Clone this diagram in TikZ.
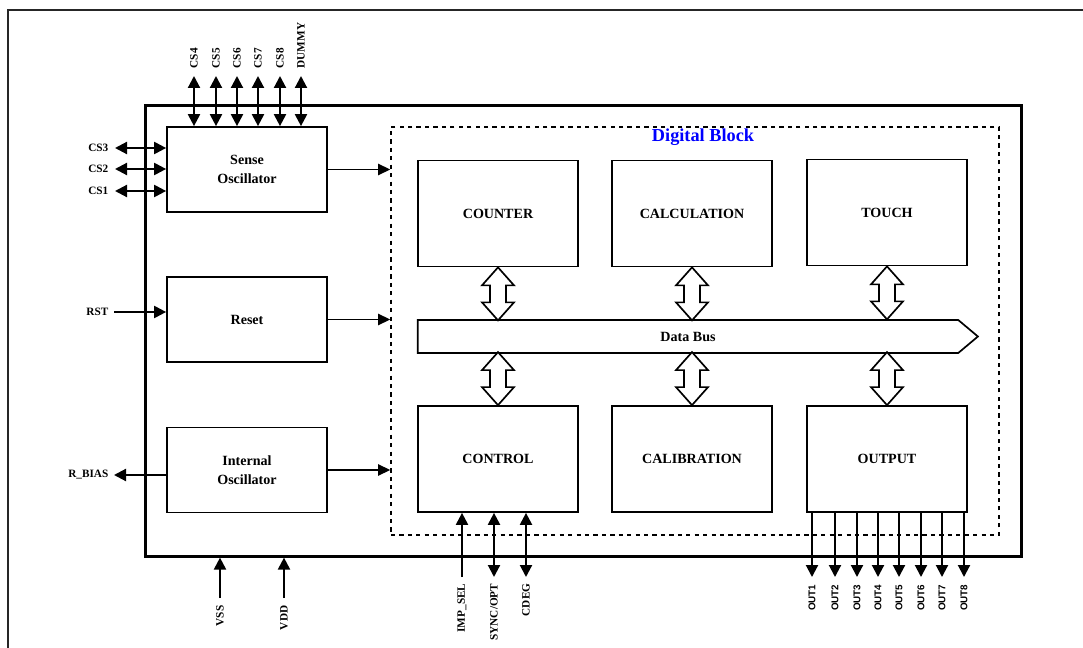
\documentclass[tikz,border=0pt]{standalone}
\usepackage{fontspec}
\setmainfont{Liberation Serif}
\newfontfamily\outfont{Liberation Sans}
\usetikzlibrary{arrows.meta,shapes.symbols}

\begin{document}
\begin{tikzpicture}
[
x=0.025cm, y=-0.025cm,
every node/.style={inner sep=1pt, font=\bfseries\fontsize{8}{9}\selectfont},
block/.style={draw, line width=1.2pt, minimum width=4cm, minimum height=2.65cm, align=center, font=\bfseries\fontsize{10}{13.5}\selectfont},
osc/.style={block, minimum height=2.125cm},
pin/.style={line width=1.5pt, -{Triangle[length=3mm,width=3mm]}},
bipin/.style={line width=1.5pt, {Triangle[length=3mm,width=3mm]}-{Triangle[length=3mm,width=3mm]}},
feed/.style={line width=1.1pt, -{Triangle[length=3mm,width=2.8mm]}},
hollow/.style={draw, line width=1.2pt, fill=white, line join=miter},
vlabel/.style={rotate=90}
]
\useasboundingbox (0,0) rectangle (1083,648);

% page frame
\draw[line width=1.6pt, black!85] (1083,10) -- (8,10) -- (8,648);

% chip and digital block
\node[draw, line width=2.2pt, inner sep=0, minimum width=21.875cm, minimum height=11.25cm] (chip) at (583.5,331) {};
\node[draw, dashed, line width=1pt, inner sep=0, minimum width=15.2cm, minimum height=10.2cm] (dig) at (695,331) {};
\node[text=blue, font=\bfseries\fontsize{13}{15}\selectfont] (diglab) at (703,137) {Digital Block};

% analog blocks
\node[osc] (sense) at (247,169.5) {Sense\\Oscillator};
\node[osc] (reset) at (247,319.5) {Reset};
\node[osc] (intosc) at (247,470) {Internal\\Oscillator};

\draw[feed] (sense.east) -- (sense.east -| dig.west);
\draw[feed] (reset.east) -- (reset.east -| dig.west);
\draw[feed] (intosc.east) -- (intosc.east -| dig.west);

% digital blocks
\node[block] (cnt) at (498,213.5) {COUNTER};
\node[block] (calc) at (692,213.5) {CALCULATION};
\node[block] (touch) at (887,212.5) {TOUCH};
\node[block] (ctrl) at (498,459) {CONTROL};
\node[block] (calib) at (692,459) {CALIBRATION};
\node[block] (outb) at (887,459) {OUTPUT};

\node[draw, line width=1.2pt, shape=signal, signal to=east, signal pointer angle=80, minimum width=14cm, minimum height=0.825cm, font=\bfseries\fontsize{10}{12}\selectfont] (bus) at (688,336.5) {Data Bus};

\foreach \b in {cnt,calc,touch}
  \draw[hollow] (\b.south) -- ++(16,18) -- ++(-8,0) -- ++(0,17) -- ++(8,0) -- ++(-16,18)
    -- ++(-16,-18) -- ++(8,0) -- ++(0,-17) -- ++(-8,0) -- cycle;
\foreach \b in {ctrl,calib,outb}
  \draw[hollow] (\b.north) -- ++(16,-18) -- ++(-8,0) -- ++(0,-17) -- ++(8,0) -- ++(-16,-18)
    -- ++(-16,18) -- ++(8,0) -- ++(0,17) -- ++(-8,0) -- cycle;

% sense pins on top
\foreach \lab/\px in {CS4/194, CS5/216, CS6/237, CS7/258, CS8/280, DUMMY/301}
{
  \coordinate (t\lab) at (\px,76);
  \draw[bipin] (sense.north -| t\lab) -- (t\lab);
  \node[vlabel, anchor=west] (l\lab) at (\px,70) {\lab};
}

% sense pins on the left
\foreach \lab/\py in {CS3/148, CS2/169, CS1/191}
{
  \coordinate (s\lab) at (115,\py);
  \draw[bipin] (s\lab) -- (s\lab -| sense.west);
  \node[anchor=east] (l\lab) at (110,\py) {\lab};
}

\coordinate (rst) at (114,312);
\draw[pin] (rst) -- (rst -| reset.west);
\node[anchor=east] (lrst) at (110,312) {RST};

\coordinate (rbias) at (114,475);
\draw[pin] (rbias -| intosc.west) -- (rbias);
\node[anchor=east] (lrbias) at (110,475) {R\_BIAS};

% supply pins
\foreach \lab/\px in {VSS/220, VDD/284}
{
  \coordinate (p\lab) at (\px,598);
  \draw[pin] (p\lab) -- (p\lab |- chip.south);
  \node[vlabel, anchor=east] (l\lab) at (\px,604) {\lab};
}

% control pins
\coordinate (imp) at (462,577);
\draw[pin] (imp) -- (imp |- ctrl.south);
\node[vlabel, anchor=east] (limp) at (462,582) {IMP\_SEL};
\foreach \lab/\px in {{SYNC/OPT}/494, CDEG/526}
{
  \coordinate (c\px) at (\px,577);
  \draw[bipin] (ctrl.south -| c\px) -- (c\px);
  \node[vlabel, anchor=east] (l\px) at (\px,582) {\lab};
}

% output pins
\foreach \i/\px in {1/812, 2/835, 3/857, 4/878, 5/899, 6/921, 7/942, 8/964}
{
  \coordinate (o\i) at (\px,577);
  \draw[pin] (outb.south -| o\i) -- (o\i);
  \node[vlabel, anchor=east, font=\outfont\bfseries\fontsize{7}{8}\selectfont] (lo\i) at (\px,583) {OUT\i};
}
\end{tikzpicture}
\end{document}
